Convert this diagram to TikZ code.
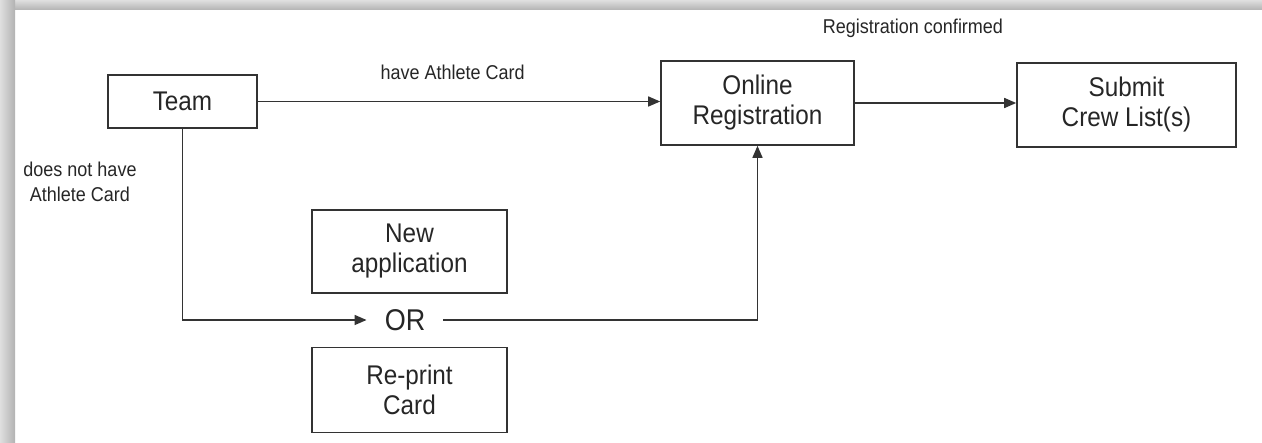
\documentclass[tikz,border=0pt]{standalone}
\usepackage{fontspec}
\setmainfont[FakeStretch=0.9]{Liberation Sans}
\usetikzlibrary{arrows.meta,positioning}

\tikzset{
  procbox/.style={draw=black!80,line width=1.6pt,align=center,text=black!85,
    font=\fontsize{27}{30}\selectfont,inner sep=0pt},
  flowlabel/.style={align=center,text=black!85,font=\fontsize{20}{25}\selectfont},
  flowline/.style={draw=black!80,line width=1.5pt,-{Triangle[length=12pt,width=10pt]}}
}

\begin{document}
\begin{tikzpicture}[x=1pt,y=-1pt]
\useasboundingbox (0,0) rectangle (1262,443);

% shadow of the frame
\shade[top color=gray!25,bottom color=gray!60] (0,0) rectangle (1262,10);
\shade[left color=gray!25,right color=gray!60] (0,0) rectangle (15,443);

% boxes
\node[procbox,minimum width=149pt,minimum height=53pt] (team) at (182.5,101.5) {Team};
\node[procbox,minimum width=193pt,minimum height=84pt] (online) at (757.5,103) {Online\\Registration};
\node[procbox,minimum width=219pt,minimum height=84pt] (crew) at (1126.5,105) {Submit\\Crew List(s)};
\node[procbox,minimum width=195pt,minimum height=83pt] (newapp) at (409.5,251.5) {New\\application};
\node[procbox,minimum width=195pt,minimum height=85pt,below=53pt of newapp] (reprint) {Re-print\\Card};
\node[text=black!85,font=\fontsize{30}{32}\selectfont,inner xsep=18pt] (or) at (405,320) {OR};

% labels
\node[flowlabel,anchor=west] (havelbl) at (377,72) {have Athlete Card};
\node[flowlabel] (conflbl) at (913,28) {Registration confirmed};
\node[flowlabel] (notlbl) at (80,182) {does not have\\Athlete Card};

% connectors
\draw[flowline] (team.east) -- (team.east -| online.west);
\draw[flowline] (online.east) -- (online.east -| crew.west);
\draw[flowline] (team.south) |- (or.west);
\draw[flowline] (or.east) -| (online.south);

\end{tikzpicture}
\end{document}
